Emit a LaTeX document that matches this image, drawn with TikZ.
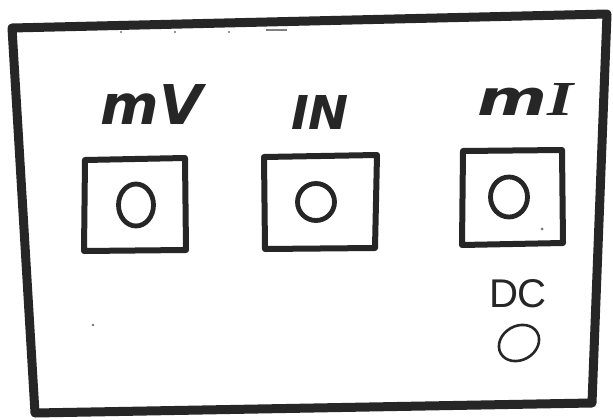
\documentclass[tikz,border=0pt]{standalone}
\usepackage{fontspec}
\usepackage{graphicx}
\setmainfont{DejaVu Sans}
\newfontfamily\thinfont{Liberation Sans}
\newfontfamily\serifhand{Liberation Serif}
\tikzset{
  frame/.style={line width=9pt, line join=round, line cap=round, draw=black!85},
  jackbox/.style={line width=6pt, line join=round, draw=black!85},
  jack/.style={line width=4.8pt, draw=black!85},
  smalljack/.style={line width=2.6pt, draw=black!85},
  lbl/.style={inner sep=0pt, text=black!85},
  speck/.style={fill=black!55}
}
\begin{document}
\begin{tikzpicture}[x=1pt,y=-1pt]
\useasboundingbox (0,0) rectangle (613,420);
\fill[white] (0,0) rectangle (613,420);
% outer panel
\draw[frame] (12,28) -- (607,14) -- (592,403) -- (35,413) -- cycle;
% boxes
\draw[jackbox] (85,160) -- (185,158) -- (186,250) -- (84,251) -- cycle;
\draw[jackbox] (264,157) -- (377,155) -- (375,248) -- (265,249) -- cycle;
\draw[jackbox] (463,151) -- (562,150) -- (563,243) -- (462,245) -- cycle;
% jacks
\draw[jack] (136,205) ellipse [x radius=17.5, y radius=21];
\draw[jack] (316,202) ellipse [x radius=18.5, y radius=18.5];
\draw[jack] (509,197) ellipse [x radius=18.5, y radius=20];
\draw[smalljack, rotate around={30:(519,343)}] (519,343) ellipse [x radius=21, y radius=17];
% labels
\node[lbl] (mv) at (152,104) {\resizebox{102pt}{40pt}{\bfseries\itshape mV}};
\node[lbl] (in) at (320,112) {\resizebox{58pt}{34pt}{\bfseries\itshape IN}};
\node[lbl] (mi) at (526,99) {\resizebox{96pt}{32pt}{\bfseries\itshape m{\serifhand\bfseries\itshape I}}};
\node[lbl] (dc) at (518,294) {\resizebox{58pt}{28pt}{\thinfont DC}};
% specks
\fill[speck] (121,32) circle (1.2);
\fill[speck] (175,32) circle (1.2);
\fill[speck] (229,32) circle (1.2);
\draw[black!50, line width=1.5pt] (266,30) -- (287,30);
\fill[speck] (93,325) circle (1.3);
\fill[speck] (542,229) circle (1.5);
\end{tikzpicture}
\end{document}
